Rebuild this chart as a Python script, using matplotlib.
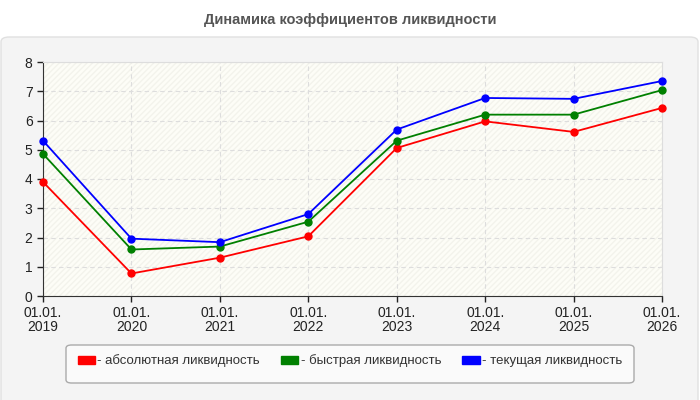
import matplotlib
matplotlib.use('Agg')
import matplotlib.pyplot as plt
from matplotlib.patches import FancyBboxPatch, Patch

# данные
dates = ['01.01.\n2019', '01.01.\n2020', '01.01.\n2021', '01.01.\n2022',
         '01.01.\n2023', '01.01.\n2024', '01.01.\n2025', '01.01.\n2026']
absolyutnaya = [3.90, 0.77, 1.31, 2.04, 5.06, 5.97, 5.61, 6.43]
bystraya = [4.86, 1.59, 1.69, 2.54, 5.31, 6.20, 6.20, 7.04]
tekushchaya = [5.31, 1.96, 1.84, 2.80, 5.69, 6.77, 6.74, 7.35]
names = ['- абсолютная ликвидность', '- быстрая ликвидность', '- текущая ликвидность']
colors = ['#ff0000', '#008000', '#0000ff']

plt.rcParams['font.family'] = ['Liberation Sans', 'DejaVu Sans']

fig = plt.figure(figsize=(7, 4), dpi=100)
fig.patch.set_facecolor('white')

# серая панель
panel = FancyBboxPatch((1 / 700, -0.05), 697 / 700, (400 - 37) / 400 + 0.05,
                       boxstyle='round,pad=0,rounding_size=0.012',
                       transform=fig.transFigure, facecolor='#f4f4f4',
                       edgecolor='#e0e0e0', linewidth=1, zorder=-10)
fig.patches.append(panel)

fig.text(0.5, 1 - 20 / 400, 'Динамика коэффициентов ликвидности', ha='center', va='center',
         fontsize=10.5, fontweight='bold', color='#555555')

ax = fig.add_axes([43 / 700, 1 - 296 / 400, (662 - 43) / 700, (296 - 62) / 400])
ax.set_facecolor('#fdfdf7')
ax.add_patch(plt.Rectangle((0, 0), 1, 1, transform=ax.transAxes, facecolor='none',
                           edgecolor='#f3f3ec', hatch='//////', linewidth=0, zorder=0))

x = list(range(len(dates)))
for vals, c in zip([absolyutnaya, bystraya, tekushchaya], colors):
    ax.plot(x, vals, color=c, linewidth=1.3, marker='o', markersize=5, zorder=3,
            clip_on=False)

ax.set_xlim(0, len(dates) - 1)
ax.set_ylim(0, 8)
ax.set_xticks(x)
ax.set_xticklabels(dates, fontsize=10, linespacing=0.95)
ax.set_yticks(range(9))
ax.tick_params(axis='both', labelsize=10, colors='#222222', length=4, width=1)
ax.grid(True, color='#dddddd', linestyle=(0, (4, 3)), linewidth=0.8)
ax.set_axisbelow(True)
for s in ['top', 'right']:
    ax.spines[s].set_color('#dddddd')
for s in ['left', 'bottom']:
    ax.spines[s].set_color('#333333')

# легенда
box = FancyBboxPatch((66 / 700, 1 - 383 / 400), (634 - 66) / 700, 38 / 400,
                     boxstyle='round,pad=0,rounding_size=0.008',
                     transform=fig.transFigure, facecolor='#fafafa',
                     edgecolor='#aaaaaa', linewidth=1, zorder=-5)
fig.patches.append(box)
handles = [Patch(facecolor=c, edgecolor=c, label=n) for c, n in zip(colors, names)]
fig.legend(handles=handles, loc='center', bbox_to_anchor=(350 / 700, 1 - 361 / 400),
           ncol=3, frameon=False, fontsize=9.5, handlelength=1.3, handleheight=0.6,
           handletextpad=0.2, columnspacing=1.6, labelcolor='#333333')

plt.savefig('out.png', dpi=100)
